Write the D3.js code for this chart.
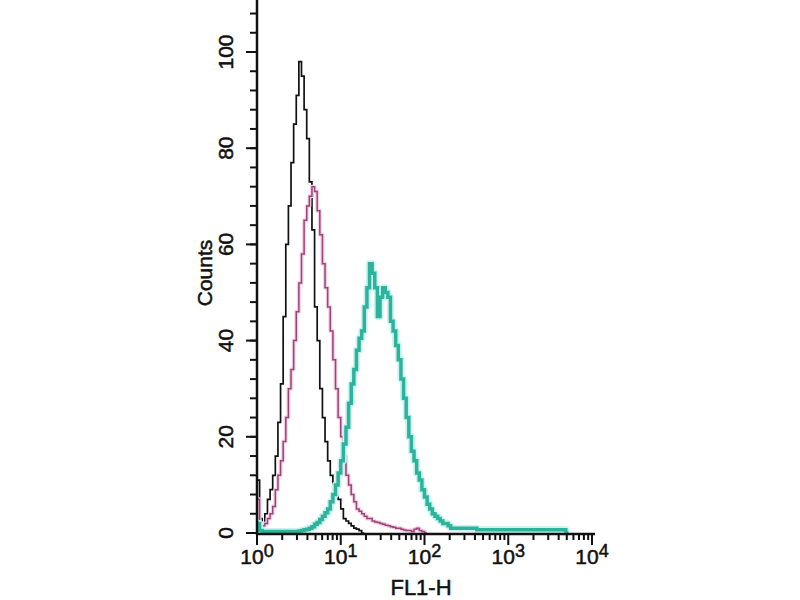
<!DOCTYPE html>
<html>
<head>
<meta charset="utf-8">
<script src="https://cdn.jsdelivr.net/npm/d3@7"></script>
<style>
    body { margin: 0; background: #fff; }
    text { font-family: "Liberation Sans", Arial, sans-serif; fill: #111; stroke: #111; stroke-width: 0.5px; }
</style>
</head>
<body>
<div id="chart"></div>
<script>
// histogram channels: 32 bins per decade, bin 0 starts at 10^0
const binsPerDecade = 32;

const blackCounts = [11, 3, 2, 4, 7, 9, 12, 16, 23, 31, 45, 60, 68, 77, 85, 91,
    98, 95, 88, 82, 73, 63, 47, 40, 30, 24, 19, 15, 12, 10, 8.5, 7,
    5, 3, 2.5, 2, 1.5, 1, 0.8, 0.5, 0];

const pinkCounts = [7, 2, 1.5, 2, 3, 4, 5.5, 9, 12, 15, 19, 24, 30, 34, 40, 46,
    52, 58, 65, 68, 70, 72, 71, 67, 62, 56, 51, 47, 42, 36, 30, 24,
    20, 16, 12, 10, 8, 6.5, 5, 4.5, 4, 3.5, 3, 3, 2.5, 2.3, 2.2, 2,
    1.8, 1.6, 1.5, 1.3, 1.2, 1, 1, 0.8, 0.6, 0.5, 0.5, 0.3, 0.8, 1, 0.5, 0.3, 0];

const tealCounts = [2, 0.5, 0.3, 0.3, 0.3, 0.3, 0.3, 0.3, 0.3, 0.3, 0.3, 0.3, 0.3, 0.3, 0.3, 0.3,
    0.4, 0.5, 0.7, 0.8, 1, 1.3, 1.8, 2.2, 2.8, 3.5, 4.2, 5, 6.5, 8, 10, 12.5,
    15, 18.5, 22, 27, 31, 34, 38, 40.5, 42, 47, 51, 56, 54, 51, 45, 49,
    51, 50, 49, 44, 42, 39, 36, 32, 28, 24, 20, 17, 15, 12.5, 11, 9,
    7.5, 6, 5, 4, 3.5, 3, 2.5, 2, 2, 1.5, 1, 1, 1, 1, 1, 1,
    1, 1, 1, 1, 0.7, 0.7, 0.7, 0.7, 0.7, 0.7, 0.7, 0.7, 0.7, 0.7, 0.7, 0.7,
    0.7, 0.7, 0.7, 0.7, 0.7, 0.7, 0.7, 0.7, 0.7, 0.7, 0.7, 0.7, 0.7, 0.7, 0.7, 0.7,
    0.7, 0.7, 0.7, 0.7, 0.7, 0.7, 0];

const yTicks = [0, 20, 40, 60, 80, 100];
const xExponents = [0, 1, 2, 3, 4];
const xLabel = "FL1-H";
const yLabel = "Counts";

const width = 800;
const height = 600;

const svg = d3.select("#chart").append("svg")
    .attr("width", width)
    .attr("height", height);

const x = d3.scaleLog().domain([1, 1e4]).range([257, 592]);
const y = d3.scaleLinear().domain([0, 100]).range([533, 52]);

function binEdges(counts) {
    let pts = counts.map(function (v, i) {
        return { e: Math.pow(10, i / binsPerDecade), v: v };
    });
    pts.push({ e: Math.pow(10, counts.length / binsPerDecade), v: 0 });
    return pts;
}

const line = d3.line()
    .x(function (d) { return x(d.e); })
    .y(function (d) { return y(d.v); })
    .curve(d3.curveStepAfter);

function drawSeries(counts, halo, haloWidth, color, strokeWidth) {
    const pts = binEdges(counts);
    if (halo) {
        svg.append("path")
            .attr("d", line(pts))
            .attr("fill", "none")
            .attr("stroke", halo)
            .attr("stroke-width", haloWidth)
            .attr("stroke-linejoin", "round");
    }
    svg.append("path")
        .attr("d", line(pts))
        .attr("fill", "none")
        .attr("stroke", color)
        .attr("stroke-width", strokeWidth);
}

drawSeries(blackCounts, null, 0, "#111", 1.7);
drawSeries(pinkCounts, "#f4d0e4", 4, "#9a4479", 1.5);
drawSeries(tealCounts, "#c9f4ef", 7, "#2db39b", 3.5);

// y axis
const yAxis = svg.append("g");
yAxis.append("line")
    .attr("x1", 257).attr("x2", 257)
    .attr("y1", 0).attr("y2", 535)
    .attr("stroke", "#111").attr("stroke-width", 2.5);

yAxis.selectAll(".ymin")
    .data(d3.range(0, 112, 4))
    .enter().append("line")
    .attr("x1", 250).attr("x2", 257)
    .attr("y1", function (d) { return y(d); })
    .attr("y2", function (d) { return y(d); })
    .attr("stroke", "#111").attr("stroke-width", 2);

yAxis.selectAll(".ymaj")
    .data(yTicks)
    .enter().append("line")
    .attr("x1", 246).attr("x2", 257)
    .attr("y1", function (d) { return y(d); })
    .attr("y2", function (d) { return y(d); })
    .attr("stroke", "#111").attr("stroke-width", 2);

yAxis.selectAll(".ylab")
    .data(yTicks)
    .enter().append("text")
    .attr("transform", function (d) { return "translate(233," + y(d) + ") rotate(-90)"; })
    .attr("text-anchor", "middle")
    .style("font-size", "21px")
    .text(function (d) { return d; });

svg.append("text")
    .attr("transform", "translate(212,273) rotate(-90)")
    .attr("text-anchor", "middle")
    .style("font-size", "21px")
    .text(yLabel);

// x axis, log decades with 2..9 minor ticks
const xAxis = svg.append("g");
xAxis.append("line")
    .attr("x1", 256).attr("x2", 595)
    .attr("y1", 534).attr("y2", 534)
    .attr("stroke", "#111").attr("stroke-width", 2.5);

let minor = [];
xExponents.slice(0, -1).forEach(function (p) {
    for (let k = 2; k < 10; k++) minor.push(k * Math.pow(10, p));
});

xAxis.selectAll(".xmin")
    .data(minor)
    .enter().append("line")
    .attr("x1", function (d) { return x(d); })
    .attr("x2", function (d) { return x(d); })
    .attr("y1", 534).attr("y2", 540)
    .attr("stroke", "#111").attr("stroke-width", 2);

xAxis.selectAll(".xmaj")
    .data(xExponents)
    .enter().append("line")
    .attr("x1", function (d) { return x(Math.pow(10, d)); })
    .attr("x2", function (d) { return x(Math.pow(10, d)); })
    .attr("y1", 534).attr("y2", 545)
    .attr("stroke", "#111").attr("stroke-width", 2);

const xl = xAxis.selectAll(".xlab")
    .data(xExponents)
    .enter().append("text")
    .attr("x", function (d) { return x(Math.pow(10, d)); })
    .attr("y", 564)
    .attr("text-anchor", "middle")
    .style("font-size", "21px");
xl.append("tspan").text("10");
xl.append("tspan")
    .attr("dy", -7)
    .style("font-size", "18px")
    .text(function (d) { return d; });

svg.append("text")
    .attr("x", 421)
    .attr("y", 595)
    .attr("text-anchor", "middle")
    .style("font-size", "22px")
    .text(xLabel);
</script>
</body>
</html>
